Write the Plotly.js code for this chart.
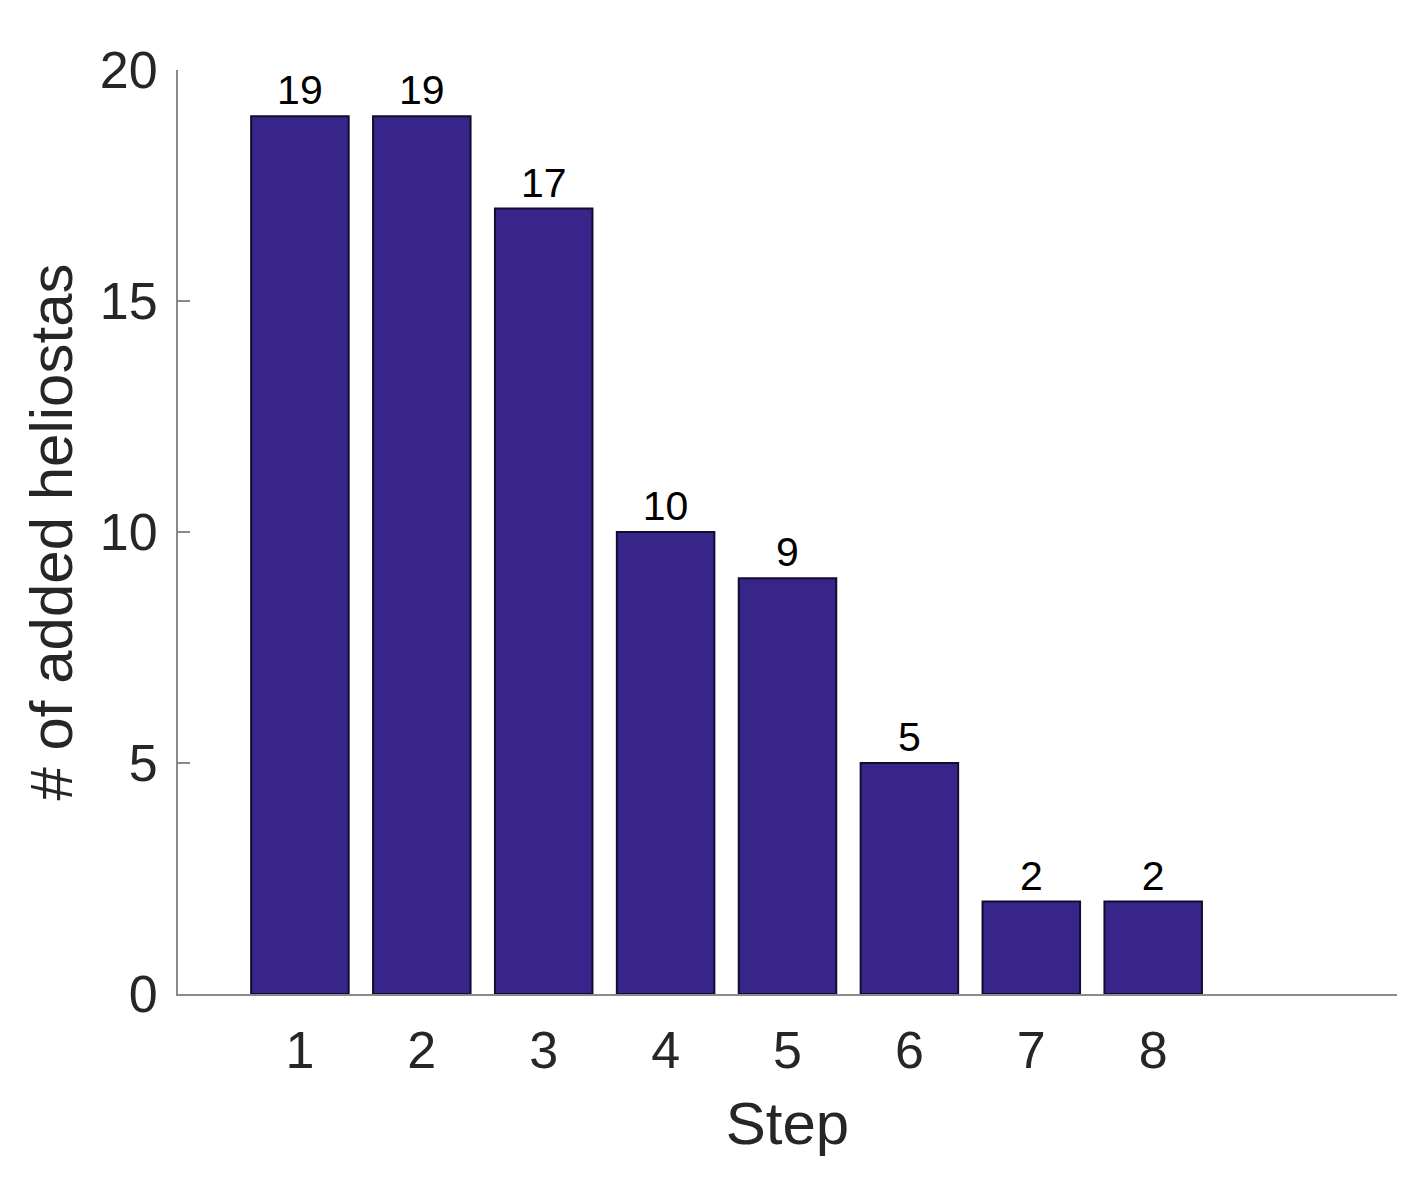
<!DOCTYPE html>
<html>
<head>
<meta charset="utf-8">
<script src="https://cdn.plot.ly/plotly-3.0.1.min.js"></script>
<style>
  html, body { margin: 0; padding: 0; background: #fff; }
  #plot { width: 1427px; height: 1200px; }
</style>
</head>
<body>
<div id="plot"></div>
<script>
const steps = [1, 2, 3, 4, 5, 6, 7, 8];
const added = [19, 19, 17, 10, 9, 5, 2, 2];
const yTicks = [0, 5, 10, 15, 20];

const trace = {
    x: steps,
    y: added,
    type: 'bar',
    width: 0.8,
    text: added.map(String),
    textposition: 'outside',
    cliponaxis: false,
    textfont: { family: 'Liberation Sans, Arial, sans-serif', size: 41, color: '#000' },
    marker: {
        color: '#372589',
        line: { color: '#140c2e', width: 2 }
    },
    hoverinfo: 'x+y'
};

const layout = {
    width: 1427,
    height: 1200,
    margin: { l: 178, r: 30, t: 70, b: 206 },
    paper_bgcolor: '#fff',
    plot_bgcolor: '#fff',
    showlegend: false,
    font: { family: 'Liberation Sans, Arial, sans-serif', color: '#262626' },
    xaxis: {
        range: [0, 10],
        tickvals: steps,
        ticks: '',
        showgrid: false,
        zeroline: false,
        showline: true,
        linecolor: '#8a8a8a',
        linewidth: 2,
        tickfont: { size: 52, color: '#262626' },
        ticklabelstandoff: 10,
        title: { text: 'Step', font: { size: 60, color: '#262626' }, standoff: 24 }
    },
    yaxis: {
        range: [0, 20],
        tickvals: yTicks,
        ticks: 'inside',
        ticklen: 12,
        tickwidth: 2,
        tickcolor: '#8a8a8a',
        showgrid: false,
        zeroline: false,
        showline: true,
        linecolor: '#8a8a8a',
        linewidth: 2,
        tickfont: { size: 52, color: '#262626' },
        ticklabelstandoff: 8,
        title: { text: '# of added heliostas', font: { size: 60, color: '#262626' }, standoff: 8 }
    }
};

Plotly.newPlot('plot', [trace], layout, { displayModeBar: false, staticPlot: true });
</script>
</body>
</html>
